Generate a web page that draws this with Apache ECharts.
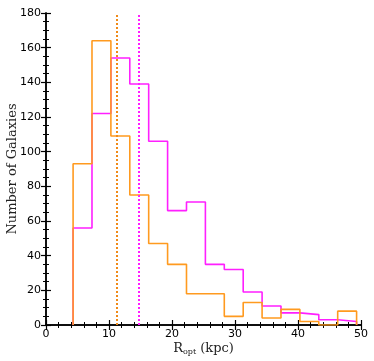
<!DOCTYPE html>
<html>
<head>
<meta charset="utf-8">
<script src="https://cdn.jsdelivr.net/npm/echarts@6/dist/echarts.min.js"></script>
<style>
  html, body { margin: 0; padding: 0; background: #fff; }
  #chart { width: 374px; height: 361px; }
</style>
</head>
<body>
<div id="chart"></div>
<script>
// bin edges (kpc) and counts per bin
const binStart = 4.3;
const binWidth = 3.0;
const orangeCounts = [93, 164, 109, 75, 47, 35, 18, 18, 5, 13, 4, 9, 2, 0, 8];
const magentaCounts = [56, 122, 154, 139, 106, 66, 71, 35, 32, 19, 11, 7, 6, 3, 2];
const orangeMedian = 11.3;
const magentaMedian = 14.8;

const orange = '#FF9A1F';
const magenta = '#FF1FFF';

// step outline: (e0,0), (e_i,c_i) ..., (e_last,0)
function stepPoints(counts) {
  const pts = [[binStart, 0]];
  counts.forEach((c, i) => pts.push([+(binStart + i * binWidth).toFixed(2), c]));
  pts.push([+(binStart + counts.length * binWidth).toFixed(2), 0]);
  return pts;
}

const axisLineStyle = { color: '#000', width: 1.5 };
const tickFont = { fontFamily: 'DejaVu Sans', fontSize: 11, color: '#000' };

const chart = echarts.init(document.getElementById('chart'));
chart.setOption({
  animation: false,
  grid: { left: 46, right: 13, top: 13, bottom: 36, containLabel: false, outerBoundsMode: 'none' },
  xAxis: [
    {
      type: 'value', min: 0, max: 50, interval: 10,
      name: '{r|R}{s|opt}{r| (kpc)}', nameLocation: 'middle', nameGap: 17, nameMoveOverlap: false,
      nameTextStyle: {
        rich: {
          r: { fontFamily: 'DejaVu Serif', fontSize: 13, color: '#222' },
          s: { fontFamily: 'DejaVu Serif', fontSize: 8, color: '#222', verticalAlign: 'bottom', padding: [6, 0, 0, 0] }
        }
      },
      axisLine: { lineStyle: axisLineStyle },
      axisTick: { inside: true, length: 5, lineStyle: { color: '#000', width: 1.2 } },
      minorTick: { show: true, splitNumber: 5, length: 3, lineStyle: { color: '#000', width: 1 } },
      axisLabel: Object.assign({ margin: 4 }, tickFont),
      splitLine: { show: false }
    },
    {
      type: 'value', min: 0, max: 50, interval: 10, position: 'top',
      axisLine: { lineStyle: axisLineStyle },
      axisTick: { inside: true, length: 5, lineStyle: { color: '#000', width: 1.2 } },
      minorTick: { show: true, splitNumber: 5, length: 3, lineStyle: { color: '#000', width: 1 } },
      axisLabel: { show: false },
      splitLine: { show: false }
    }
  ],
  yAxis: [
    {
      type: 'value', min: 0, max: 180, interval: 20,
      name: 'Number of Galaxies', nameLocation: 'middle', nameGap: 27, nameMoveOverlap: false,
      nameTextStyle: { fontFamily: 'DejaVu Serif', fontSize: 13, color: '#222' },
      axisLine: { show: true, lineStyle: axisLineStyle },
      axisTick: { show: true, inside: true, length: 5, lineStyle: { color: '#000', width: 1.2 } },
      minorTick: { show: true, splitNumber: 4, length: 3, lineStyle: { color: '#000', width: 1 } },
      axisLabel: Object.assign({ margin: 5 }, tickFont),
      splitLine: { show: false }
    },
    {
      type: 'value', min: 0, max: 180, interval: 20, position: 'right',
      axisLine: { show: true, lineStyle: axisLineStyle },
      axisTick: { show: true, inside: true, length: 5, lineStyle: { color: '#000', width: 1.2 } },
      minorTick: { show: true, splitNumber: 4, length: 3, lineStyle: { color: '#000', width: 1 } },
      axisLabel: { show: false },
      splitLine: { show: false }
    }
  ],
  series: [
    {
      type: 'line', step: 'end', data: stepPoints(magentaCounts),
      symbol: 'none', lineStyle: { color: magenta, width: 1.6 },
      markLine: {
        silent: true, symbol: 'none', label: { show: false },
        lineStyle: { color: magenta, type: [2, 2], width: 2 },
        data: [{ xAxis: magentaMedian }]
      }
    },
    {
      type: 'line', step: 'end', data: stepPoints(orangeCounts),
      symbol: 'none', lineStyle: { color: orange, width: 1.6 },
      markLine: {
        silent: true, symbol: 'none', label: { show: false },
        lineStyle: { color: '#F08A18', type: [2, 2], width: 2 },
        data: [{ xAxis: orangeMedian }]
      }
    }
  ]
});
</script>
</body>
</html>
